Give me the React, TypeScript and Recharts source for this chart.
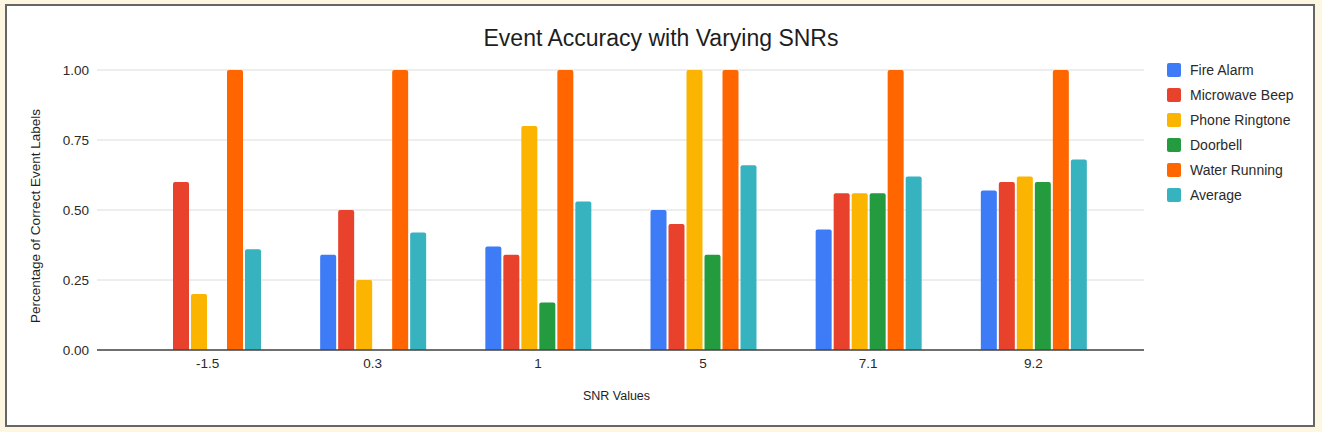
import { Bar, BarChart, CartesianGrid, XAxis, YAxis } from "recharts";

const W = 1322;
const H = 432;
const FONT = "'Liberation Sans', Arial, sans-serif";

const snrValues = ["-1.5", "0.3", "1", "5", "7.1", "9.2"];
const fireAlarm = [0, 0.34, 0.37, 0.5, 0.43, 0.57];
const microwaveBeep = [0.6, 0.5, 0.34, 0.45, 0.56, 0.6];
const phoneRingtone = [0.2, 0.25, 0.8, 1, 0.56, 0.62];
const doorbell = [0, 0, 0.17, 0.34, 0.56, 0.6];
const waterRunning = [1, 1, 1, 1, 1, 1];
const average = [0.36, 0.42, 0.53, 0.66, 0.62, 0.68];
const yTicks = [0, 0.25, 0.5, 0.75, 1];

const SERIES = [
  { key: "fireAlarm", name: "Fire Alarm", color: "#3d7bf7" },
  { key: "microwaveBeep", name: "Microwave Beep", color: "#e8412c" },
  { key: "phoneRingtone", name: "Phone Ringtone", color: "#fbb400" },
  { key: "doorbell", name: "Doorbell", color: "#239b3e" },
  { key: "waterRunning", name: "Water Running", color: "#ff6600" },
  { key: "average", name: "Average", color: "#37b3c0" },
];

const rows = snrValues.map((snr, i) => ({
  snr,
  fireAlarm: fireAlarm[i],
  microwaveBeep: microwaveBeep[i],
  phoneRingtone: phoneRingtone[i],
  doorbell: doorbell[i],
  waterRunning: waterRunning[i],
  average: average[i],
}));

const TICK = { fill: "#2a2a2a", fontSize: 13.5, fontFamily: FONT };

function SideLegend() {
  return (
    <div
      style={{
        position: "absolute",
        left: 1167,
        top: 58,
        fontFamily: FONT,
        fontSize: 14,
        color: "#2a2a2a",
      }}
    >
      {SERIES.map((s) => (
        <div key={s.key} style={{ display: "flex", alignItems: "center", height: 24.9 }}>
          <span
            style={{
              width: 14,
              height: 14,
              borderRadius: 2,
              background: s.color,
              display: "inline-block",
              marginRight: 9,
            }}
          />
          {s.name}
        </div>
      ))}
    </div>
  );
}

export default function App() {
  return (
    <div
      style={{
        position: "absolute",
        left: 0,
        top: 0,
        width: W,
        height: H,
        background: "#fdf6e1",
        fontFamily: FONT,
      }}
    >
      {/* white frame */}
      <div
        style={{
          position: "absolute",
          left: 5,
          top: 4,
          width: 1306,
          height: 419,
          background: "#fff",
          border: "2px solid #666",
        }}
      />
      <div
        style={{
          position: "absolute",
          left: 0,
          top: 25,
          width: W,
          textAlign: "center",
          fontSize: 23,
          color: "#1e1e1e",
        }}
      >
        Event Accuracy with Varying SNRs
      </div>
      <div style={{ position: "absolute", left: 0, top: 0 }}>
        <BarChart
          width={W}
          height={H}
          data={rows}
          margin={{ top: 70, right: 178, left: 0, bottom: 0 }}
          barSize={16}
          barGap={2}
        >
          <CartesianGrid vertical={false} stroke="#dcdcdc" />
          <XAxis
            dataKey="snr"
            height={82}
            padding={{ left: 28, right: 28 }}
            tickLine={false}
            axisLine={{ stroke: "#444", strokeWidth: 1.5 }}
            tick={TICK}
            label={{
              value: "SNR Values",
              position: "center",
              dx: -4,
              dy: 5,
              fill: "#1e1e1e",
              fontSize: 12.5,
              fontFamily: FONT,
            }}
          />
          <YAxis
            width={97}
            domain={[0, 1]}
            ticks={yTicks}
            tickLine={false}
            axisLine={false}
            tickFormatter={(v: number) => v.toFixed(2)}
            tick={TICK}
            label={{
              value: "Percentage of Correct Event Labels",
              angle: -90,
              position: "center",
              dx: -13,
              dy: 6,
              fill: "#1e1e1e",
              fontSize: 13.5,
              fontFamily: FONT,
            }}
          />
          {SERIES.map((s) => (
            <Bar
              key={s.key}
              dataKey={s.key}
              name={s.name}
              fill={s.color}
              radius={[2, 2, 0, 0]}
              isAnimationActive={false}
            />
          ))}
        </BarChart>
      </div>
      <SideLegend />
    </div>
  );
}
